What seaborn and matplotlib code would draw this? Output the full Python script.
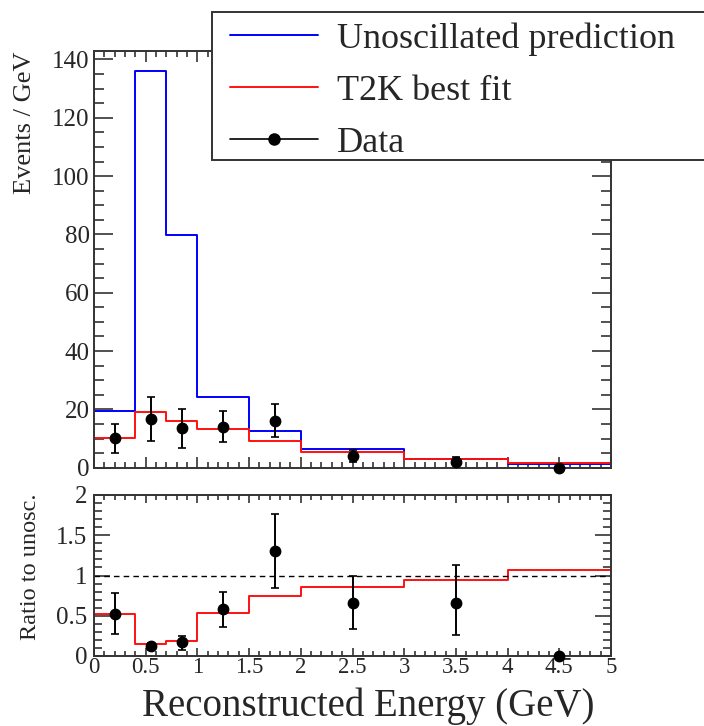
import numpy as np
import pandas as pd
import matplotlib
matplotlib.use("Agg")
import matplotlib.pyplot as plt
import seaborn as sns
from matplotlib.ticker import MultipleLocator, FixedLocator, FixedFormatter
from matplotlib.lines import Line2D
from matplotlib.patches import Rectangle

# ---------------- data ----------------
bin_edges = [0.0, 0.4, 0.7, 1.0, 1.5, 2.0, 3.0, 4.0, 5.0]
unosc_pred = [19.4, 136.1, 79.9, 24.3, 12.6, 6.3, 3.1, 1.4]
t2k_fit = [10.1, 19.2, 16.0, 13.1, 9.3, 5.5, 2.9, 1.5]

data_x = [0.2, 0.55, 0.85, 1.25, 1.75, 2.5, 3.5, 4.5]
data_y = [10.1, 16.7, 13.5, 14.1, 16.0, 4.0, 2.1, 0.0]
data_hi = [15.0, 24.3, 20.1, 19.4, 21.8, 6.2, 3.5, 0.0]
data_lo = [4.9, 9.3, 6.6, 8.7, 10.4, 2.1, 0.8, 0.0]

ratio_fit = [0.52, 0.145, 0.19, 0.53, 0.74, 0.86, 0.94, 1.07]
ratio_y = [0.52, 0.12, 0.17, 0.58, 1.30, 0.66, 0.66, 0.0]
ratio_hi = [0.78, 0.16, 0.25, 0.80, 1.76, 0.99, 1.13, 0.0]
ratio_lo = [0.27, 0.08, 0.08, 0.36, 0.84, 0.33, 0.26, 0.0]

x_ticks = [0, 0.5, 1, 1.5, 2, 2.5, 3, 3.5, 4, 4.5, 5]
x_tick_labels = ["0", "0.5", "1", "1.5", "2", "2.5", "3", "3.5", "4", "4.5", "5"]
top_y_ticks = [0, 20, 40, 60, 80, 100, 120, 140]
top_y_labels = ["0", "20", "40", "60", "80", "100", "120", "140"]
ratio_y_ticks = [0, 0.5, 1, 1.5, 2]
ratio_y_labels = ["0", "0.5", "1", "1.5", "2"]
legend_labels = ["Unoscillated prediction", "T2K best fit", "Data"]

# ---------------- style ----------------
sns.set_theme(style="ticks")
plt.rcParams["font.family"] = ["Liberation Serif", "DejaVu Serif"]
plt.rcParams["axes.edgecolor"] = "#333333"
plt.rcParams["axes.linewidth"] = 1.4

W, H = 704, 726
fig = plt.figure(figsize=(W / 100, H / 100), dpi=100)

def fx(px):
    return px / W

def fy(py):
    return 1 - py / H

ax1 = fig.add_axes([fx(94), fy(467.7), fx(611) - fx(94), fy(50.7) - fy(467.7)])
ax2 = fig.add_axes([fx(94), fy(656), fx(611) - fx(94), fy(495) - fy(656)])

centers = [(a + b) / 2 for a, b in zip(bin_edges[:-1], bin_edges[1:])]
hist_df = pd.DataFrame({"E": centers, "unosc": unosc_pred, "fit": t2k_fit, "rfit": ratio_fit})

# ---------------- top panel ----------------
sns.histplot(data=hist_df, x="E", weights="unosc", bins=bin_edges, element="step",
             fill=False, color="#0000ff", linewidth=1.4, ax=ax1)
sns.histplot(data=hist_df, x="E", weights="fit", bins=bin_edges, element="step",
             fill=False, color="#ff1010", linewidth=1.4, ax=ax1)
yerr_top = [np.array(data_y) - np.array(data_lo), np.array(data_hi) - np.array(data_y)]
ax1.errorbar(data_x, data_y, yerr=yerr_top, fmt="o", color="black", ms=7.5,
             elinewidth=1.4, capsize=3, capthick=1.2, zorder=5, clip_on=False)
ax1.set_xlim(0, 5)
ax1.set_ylim(0, 143)
ax1.set_xlabel("")
ax1.set_ylabel("")

# ---------------- ratio panel ----------------
sns.histplot(data=hist_df, x="E", weights="rfit", bins=bin_edges, element="step",
             fill=False, color="#ff1010", linewidth=1.4, ax=ax2)
ax2.axhline(1.0, color="black", linestyle=(0, (4, 3)), linewidth=1.0)
yerr_r = [np.array(ratio_y) - np.array(ratio_lo), np.array(ratio_hi) - np.array(ratio_y)]
ax2.errorbar(data_x, ratio_y, yerr=yerr_r, fmt="o", color="black", ms=7.5,
             elinewidth=1.4, capsize=3, capthick=1.2, zorder=5, clip_on=False)
ax2.set_xlim(0, 5)
ax2.set_ylim(0, 2)
ax2.set_xlabel("")
ax2.set_ylabel("")

# ---------------- ticks ----------------
for ax in (ax1, ax2):
    for s in ax.spines.values():
        s.set_visible(True)
        s.set_color("#333333")
        s.set_linewidth(1.4)
    ax.xaxis.set_major_locator(FixedLocator(x_ticks))
    ax.xaxis.set_minor_locator(MultipleLocator(0.1))
    ax.tick_params(which="both", direction="in", top=True, right=True,
                   color="#333333", width=1.2, labelsize=18)

ax1.yaxis.set_major_locator(FixedLocator(top_y_ticks))
ax1.yaxis.set_major_formatter(FixedFormatter(top_y_labels))
ax1.yaxis.set_minor_locator(MultipleLocator(5))
ax1.tick_params(axis="x", which="major", length=8, labelbottom=False)
ax1.tick_params(axis="x", which="minor", length=4.3)
ax1.tick_params(axis="y", which="major", length=13.7, pad=3)
ax1.tick_params(axis="y", which="minor", length=7)

ax2.xaxis.set_major_formatter(FixedFormatter(x_tick_labels))
ax2.yaxis.set_major_locator(FixedLocator(ratio_y_ticks))
ax2.yaxis.set_major_formatter(FixedFormatter(ratio_y_labels))
ax2.yaxis.set_minor_locator(MultipleLocator(0.1))
ax2.tick_params(axis="x", which="major", length=6, pad=0.8, labelsize=16.5)
ax2.tick_params(axis="x", which="minor", length=3.5)
ax2.tick_params(axis="y", which="major", length=11.5, pad=5)
ax2.tick_params(axis="y", which="minor", length=5.5)

# ---------------- labels ----------------
fig.text(fx(25), fy(52), "Events / GeV", rotation=90, ha="center", va="top", fontsize=19)
fig.text(fx(31), fy(493), "Ratio to unosc.", rotation=90, ha="center", va="top", fontsize=17.5)
fig.text(fx(368), fy(725), "Reconstructed Energy (GeV)", ha="center", va="bottom", fontsize=28)

# ---------------- legend ----------------
fig.patches.append(Rectangle((fx(212), fy(160)), fx(720) - fx(212), fy(12) - fy(160),
                             transform=fig.transFigure, facecolor="white",
                             edgecolor="#333333", linewidth=1.4, zorder=3, clip_on=False))
handles = [Line2D([], [], color="#0000ff", lw=1.4),
           Line2D([], [], color="#ff1010", lw=1.4),
           Line2D([], [], color="black", lw=1.2, marker="o", ms=8)]
fig.legend(handles, legend_labels, loc="upper left", bbox_to_anchor=(fx(230), fy(22)),
           frameon=False, borderpad=0, borderaxespad=0, handlelength=2.45,
           handletextpad=0.5, labelspacing=0.52, fontsize=26).set_zorder(6)

fig.savefig("out.png", dpi=100)
